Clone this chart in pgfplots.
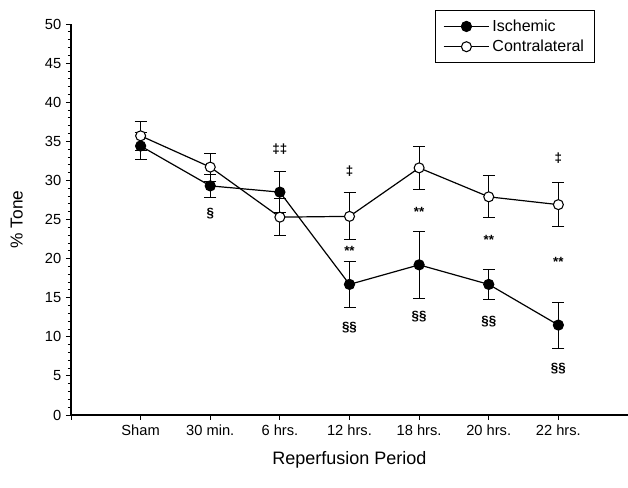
\documentclass[border=0pt]{standalone}
\usepackage{fontspec}
\setmainfont{Liberation Sans}
\usepackage{pgfplots}
\pgfplotsset{compat=1.18}
\begin{document}
\begin{tikzpicture}
\useasboundingbox (-53.25pt,-54.75pt) rectangle (417.75pt,311.25pt);
\begin{axis}[
  scale only axis,
  width=417.75pt, height=293.25pt,
  xmin=0, xmax=8, ymin=0, ymax=50,
  axis x line*=bottom, axis y line*=left,
  axis line style={-, line width=0.8pt},
  xtick={0,1,2,3,4,5,6,7},
  xticklabels={{},Sham,30 min.,6 hrs.,12 hrs.,18 hrs.,20 hrs.,22 hrs.},
  ytick={0,5,...,50},
  minor y tick num=4,
  tick align=outside,
  major tick length=3.75pt, minor tick length=2.25pt,
  tick style={black, line width=0.6pt},
  /pgf/number format/assume math mode=true,
  tick label style={font=\fontsize{11}{12}\selectfont},
  xlabel={Reperfusion Period},
  ylabel={\% Tone},
  xlabel style={font=\fontsize{13.5}{15}\selectfont, at={(axis description cs:0.5,0)}, yshift=-33.75pt, anchor=center},
  ylabel style={font=\fontsize{13}{15}\selectfont, at={(axis description cs:-0.078,0.5)}, anchor=south},
  legend style={at={(rel axis cs:0.941,1.036)}, anchor=north east, draw=black, line width=0.6pt,
    font=\fontsize{12}{14}\selectfont, cells={anchor=west}, inner xsep=6pt, inner ysep=5pt, row sep=1pt},
  legend image code/.code={\draw[mark repeat=2,mark phase=2] plot coordinates {(0cm,0cm)(0.6cm,0cm)(1.2cm,0cm)};},
  error bars/error bar style={line width=0.7pt, black},
  error bars/error mark options={rotate=90, mark size=4.5pt, line width=0.7pt},
]
\addplot[black, line width=0.9pt, mark=*, mark size=3.75pt, mark options={fill=black},
  error bars/.cd, y dir=both, y explicit]
  coordinates {
  (1,34.4) +- (0,1.7)
  (2,29.3) +- (0,1.5)
  (3,28.5) +- (0,2.6)
  (4,16.7) +- (0,2.95)
  (5,19.2) +- (0,4.3)
  (6,16.7) +- (0,1.9)
  (7,11.5) +- (0,2.95)
  };
\addlegendentry{Ischemic}
\addplot[black, line width=0.9pt, mark=*, mark size=3.75pt, mark options={fill=white, line width=0.8pt},
  error bars/.cd, y dir=both, y explicit]
  coordinates {
  (1,35.7) +- (0,1.9)
  (2,31.7) +- (0,1.8)
  (3,25.3) +- (0,2.4)
  (4,25.4) +- (0,3.0)
  (5,31.6) +- (0,2.7)
  (6,27.9) +- (0,2.7)
  (7,26.9) +- (0,2.85)
  };
\addlegendentry{Contralateral}
\begin{scope}[every node/.style={font=\fontsize{10}{11}\selectfont\bfseries}]
\node at (axis cs:3,34.0) {‡‡};
\node at (axis cs:2,25.8) {§};
\node at (axis cs:4,31.2) {‡};
\node at (axis cs:4,21.0) {**};
\node at (axis cs:4,11.2) {§§};
\node at (axis cs:5,26.0) {**};
\node at (axis cs:5,12.6) {§§};
\node at (axis cs:6,22.4) {**};
\node at (axis cs:6,11.9) {§§};
\node at (axis cs:7,32.9) {‡};
\node at (axis cs:7,19.6) {**};
\node at (axis cs:7,5.9) {§§};
\end{scope}
\end{axis}
\end{tikzpicture}
\end{document}
